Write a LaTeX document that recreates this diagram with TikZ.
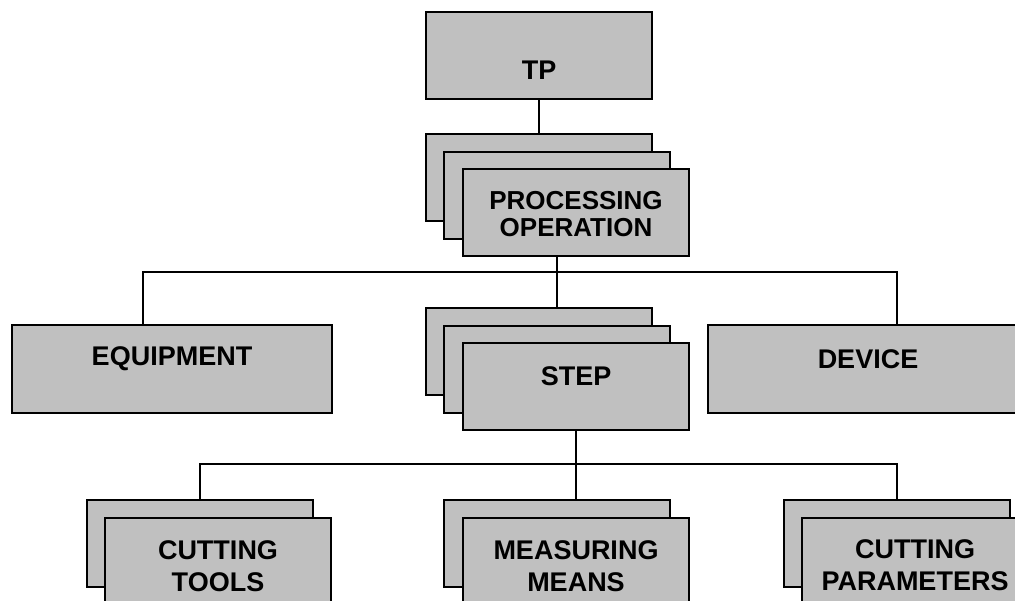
\documentclass[tikz,border=0pt]{standalone}
\usepackage{fontspec}
\setmainfont{Liberation Sans}
\definecolor{boxgray}{HTML}{C0C0C0}

\begin{document}
\begin{tikzpicture}[x=0.5pt, y=-0.5pt,
  box/.style={draw, fill=boxgray, line width=1pt, anchor=north west,
    minimum width=113pt, minimum height=43.5pt, inner sep=0pt},
  wide/.style={box, minimum width=160pt, minimum height=44pt},
  tx/.style={font=\bfseries\fontsize{13.5}{16}\selectfont, align=center},
  link/.style={line width=0.7pt}]

  \useasboundingbox (0,0) rectangle (1015,600);
  \clip (0,0) rectangle (1015,600);

  % TP at the top
  \node[box, label={[tx, yshift=-7.25pt]center:TP}] (TP) at (425,11) {};
  % processing operations, three sheets
  \node[box] (PO3) at (425,133) {};
  \node[box] (PO2) at (443,151) {};
  \node[box, label={[tx, font=\bfseries\fontsize{13}{13.5}\selectfont, yshift=-0.75pt]center:PROCESSING\\OPERATION}] (PO1) at (462,168) {};
  % equipment and device on both sides
  \node[wide, label={[tx, yshift=5pt]center:EQUIPMENT}] (EQ) at (11,324) {};
  \node[wide, label={[tx, yshift=5pt]center:DEVICE}] (DV) at (707,324) {};
  % steps, three sheets
  \node[box] (ST3) at (425,307) {};
  \node[box] (ST2) at (443,325) {};
  \node[box, label={[tx, yshift=5.25pt]center:STEP}] (ST1) at (462,342) {};
  % lower level, two sheets each
  \node[box] (CT2) at (86,499) {};
  \node[box, label={[tx, yshift=-2.25pt]center:CUTTING\\TOOLS}] (CT1) at (104,517) {};
  \node[box] (MM2) at (443,499) {};
  \node[box, label={[tx, yshift=-2.5pt]center:MEASURING\\MEANS}] (MM1) at (462,517) {};
  \node[box] (CP2) at (783,499) {};
  \node[box, label={[tx, yshift=-2pt]center:CUTTING\\PARAMETERS}] (CP1) at (801,517) {};

  % connectors
  \coordinate (J1) at (557,272);
  \coordinate (J2) at (ST1.south |- 0,464);
  \draw[link] (TP.south) -- (PO3.north);
  \draw[link] (PO1.south -| J1) -- (ST3.north -| J1);
  \draw[link] ([xshift=-14.5pt]EQ.north) |- (J1) -| ([xshift=14.5pt]DV.north);
  \draw[link] (ST1.south) -- (J2);
  \draw[link] (CT2.north) |- (J2) -| (CP2.north);
  \draw[link] (J2) -- (J2 |- MM2.north);
\end{tikzpicture}
\end{document}
